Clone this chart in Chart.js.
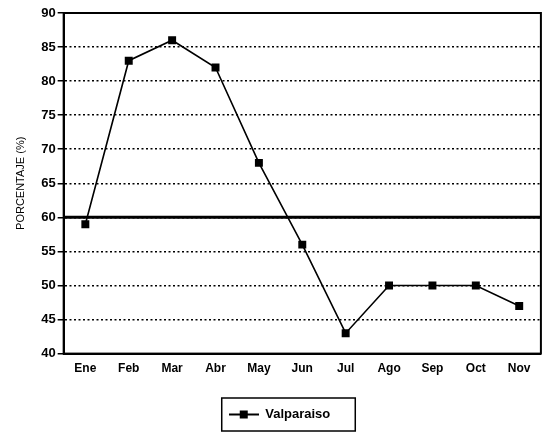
<!DOCTYPE html>
<html>
<head>
<meta charset="utf-8">
<script src="https://cdn.jsdelivr.net/npm/chart.js@4"></script>
<style>
  html, body { margin: 0; padding: 0; background: #fff; }
  #wrap { width: 547px; height: 437px; }
</style>
</head>
<body>
<div id="wrap"><canvas id="chart"></canvas></div>
<script>
'use strict';

const months = ['Ene', 'Feb', 'Mar', 'Abr', 'May', 'Jun', 'Jul', 'Ago', 'Sep', 'Oct', 'Nov'];
const valparaiso = [59, 83, 86, 82, 68, 56, 43, 50, 50, 50, 47];
const referenceLevel = 60;
const yMin = 40, yMax = 90, yStep = 5;

// legend symbol: line with a square in the middle
const legendIcon = document.createElement('canvas');
legendIcon.width = 30;
legendIcon.height = 10;
const ic = legendIcon.getContext('2d');
ic.fillStyle = '#000';
ic.fillRect(0, 4, 30, 2);
ic.fillRect(11, 1, 8, 8);

const framePlugin = {
  id: 'frame',
  beforeDatasetsDraw(chart) {
    const ctx = chart.ctx;
    const y = chart.scales.y.getPixelForValue(referenceLevel);
    const a = chart.chartArea;
    ctx.save();
    ctx.strokeStyle = '#000';
    ctx.lineWidth = 3;
    ctx.beginPath();
    ctx.moveTo(a.left, y);
    ctx.lineTo(a.right, y);
    ctx.stroke();
    ctx.restore();
  },
  afterDraw(chart) {
    const ctx = chart.ctx;
    const a = chart.chartArea;
    ctx.save();
    ctx.strokeStyle = '#000';
    ctx.lineWidth = 2;
    ctx.strokeRect(a.left, a.top, a.right - a.left, a.bottom - a.top);
    const hb = chart.legend.legendHitBoxes[0];
    if (hb) {
      ctx.lineWidth = 1.5;
      ctx.strokeRect(hb.left - 7, hb.top - 10, hb.width + 32, hb.height + 20);
    }
    ctx.restore();
  }
};

new Chart(document.getElementById('chart'), {
  type: 'line',
  data: {
    labels: months,
    datasets: [{
      label: 'Valparaiso',
      data: valparaiso,
      borderColor: '#000',
      backgroundColor: '#000',
      borderWidth: 1.6,
      pointStyle: 'rect',
      pointRadius: 4.5,
      pointHoverRadius: 4.5,
      tension: 0
    }]
  },
  options: {
    responsive: true,
    maintainAspectRatio: false,
    animation: false,
    layout: { padding: { left: 14, right: 2, top: 13, bottom: 6 } },
    plugins: {
      tooltip: { enabled: false },
      legend: {
        position: 'bottom',
        labels: {
          usePointStyle: true,
          pointStyle: legendIcon,
          pointStyleWidth: 30,
          boxHeight: 10,
          color: '#000',
          font: { family: 'Liberation Sans', size: 13, weight: 'bold' },
          padding: 28
        }
      }
    },
    scales: {
      x: {
        offset: true,
        grid: { display: false, drawTicks: true, tickLength: 4, color: '#000' },
        border: { display: true, color: '#000', width: 2 },
        ticks: { color: '#000', font: { family: 'Liberation Sans', size: 12, weight: 'bold' }, padding: 4, maxRotation: 0 }
      },
      y: {
        min: yMin,
        max: yMax,
        grid: { color: '#000', lineWidth: 1.5, tickLength: 6, tickBorderDash: [], drawOnChartArea: true },
        border: { display: true, color: '#000', width: 2, dash: [2, 2.5] },
        ticks: { stepSize: yStep, color: '#000', font: { family: 'Liberation Sans', size: 13, weight: 'bold' }, padding: 2 },
        title: { display: true, text: 'PORCENTAJE (%)', color: '#000', font: { family: 'Liberation Sans', size: 11 }, padding: { top: 0, bottom: 12 } }
      }
    }
  },
  plugins: [framePlugin]
});
</script>
</body>
</html>
